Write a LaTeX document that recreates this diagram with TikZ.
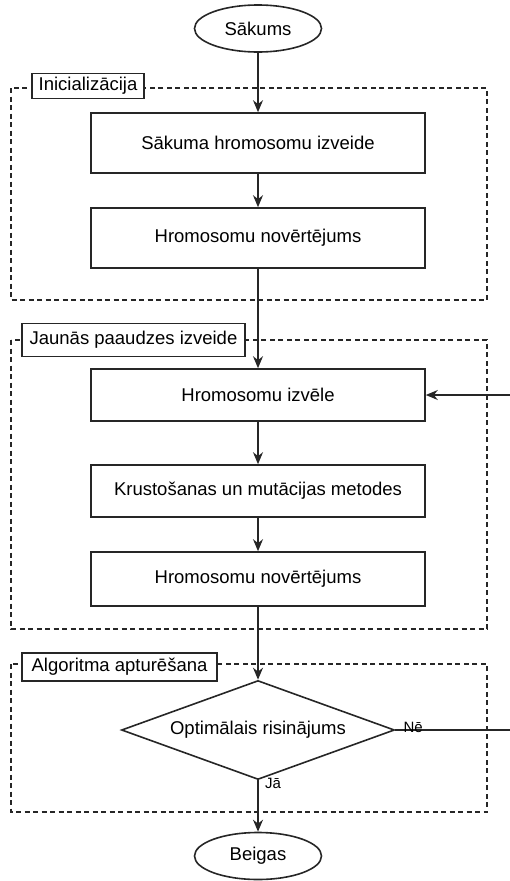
\documentclass[tikz,border=0pt]{standalone}
\usepackage{fontspec}
\setmainfont{Liberation Sans}
\usetikzlibrary{shapes.geometric,arrows.meta}
\tikzset{
  base/.style={draw=black!85, line width=1.6pt, font=\fontsize{18.5}{22}\selectfont, inner sep=0pt},
  procbox/.style={base, rectangle, minimum width=334pt},
  term/.style={base, ellipse, minimum width=127pt, minimum height=47pt},
  decision/.style={base, diamond, aspect=2.76, minimum width=273pt, minimum height=99pt},
  grouplabel/.style={base, rectangle, fill=white, line width=1.2pt},
  group/.style={draw=black!85, line width=1.2pt, dash pattern=on 5pt off 3.5pt},
  conn/.style={draw=black!85, line width=1.6pt, -{Stealth[length=12pt,width=10pt]}},
  plainline/.style={draw=black!85, line width=1.8pt},
  small/.style={font=\fontsize{15}{17}\selectfont, inner sep=1pt}
}
\begin{document}
\begin{tikzpicture}[x=1pt,y=-1pt]
\useasboundingbox (0,0) rectangle (510,881);

% groups
\draw[group] (11,88) rectangle (487,300);
\draw[group] (11,340) rectangle (487,629);
\draw[group] (11,664) rectangle (487,812);

% nodes
\node[term] (start) at (258,28.5) {Sākums};
\node[procbox, minimum height=60pt] (b1) at (258,143) {Sākuma hromosomu izveide};
\node[procbox, minimum height=60pt] (b2) at (258,238) {Hromosomu novērtējums};
\node[procbox, minimum height=52pt] (b3) at (258,395) {Hromosomu izvēle};
\node[procbox, minimum height=52pt] (b4) at (258,491) {Krustošanas un mutācijas metodes};
\node[procbox, minimum height=54pt] (b5) at (258,579) {Hromosomu novērtējums};
\node[decision] (d) at (258,730) {Optimālais risinājums};
\node[term] (end) at (258,856) {Beigas};

\coordinate (loopin) at (510,395);
\coordinate (loopout) at (510,730);

% connectors
\draw[conn] (start) -- (b1);
\draw[conn] (b1) -- (b2);
\draw[conn] (b2) -- (b3);
\draw[conn] (b3) -- (b4);
\draw[conn] (b4) -- (b5);
\draw[conn] (b5) -- (d.north);
\draw[conn] (d.south) -- (end);
\node[small, anchor=north west] (ja) at ([xshift=6pt,yshift=3pt]d.south) {Jā};
\draw[plainline] (d.east) -- (loopout);
\node[small, anchor=south west] (ne) at ([xshift=7pt,yshift=-4pt]d.east) {Nē};
\draw[conn] (loopin) -- (b3.east);

% group labels
\node[grouplabel, minimum width=112pt, minimum height=25pt] (l1) at (88,86) {Inicializācija};
\node[grouplabel, minimum width=223pt, minimum height=33pt] (l2) at (133.5,340) {Jaunās paaudzes izveide};
\node[grouplabel, minimum width=195pt, minimum height=28pt] (l3) at (119.5,667) {Algoritma apturēšana};
\end{tikzpicture}
\end{document}
